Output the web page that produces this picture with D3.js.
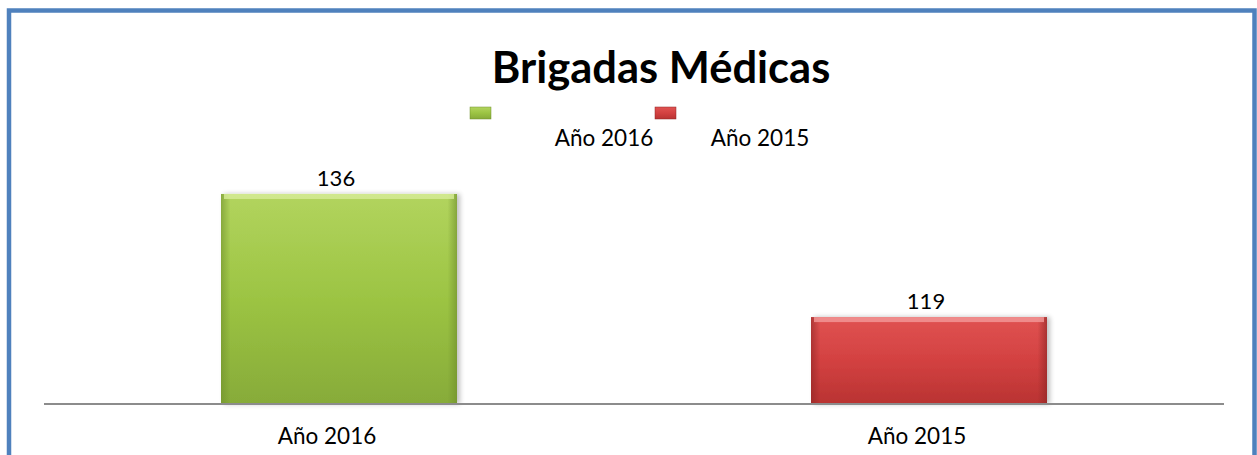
<!DOCTYPE html>
<html>
<head>
<meta charset="utf-8">
<script src="https://cdn.jsdelivr.net/npm/d3@7"></script>
<style>
  body { margin: 0; background: #fff; }
  text { font-family: Lato, "Open Sans", sans-serif; fill: #000; }
</style>
</head>
<body>
<svg class="chart" width="1257" height="455"></svg>
<script>
// data
var categories = ["Año 2016", "Año 2015"];
var values = [136, 119];
var seriesNames = ["Año 2016", "Año 2015"];
var title = "Brigadas Médicas";

var colors = [
  {top: "#b2d45e", mid: "#9cc443", bot: "#87ab39", edge: "#6f8f2c", light: "#d7ec98"},
  {top: "#e05352", mid: "#d34141", bot: "#b93332", edge: "#8e2524", light: "#f29a9a"}
];

var svg = d3.select("svg.chart");
var defs = svg.append("defs");

// gradients for the bars
colors.forEach(function(c, i) {
  var g = defs.append("linearGradient")
    .attr("id", "grad" + i)
    .attr("x1", 0).attr("y1", 0).attr("x2", 0).attr("y2", 1);
  g.append("stop").attr("offset", "0%").attr("stop-color", c.top);
  g.append("stop").attr("offset", "50%").attr("stop-color", c.mid);
  g.append("stop").attr("offset", "100%").attr("stop-color", c.bot);

  var s = defs.append("linearGradient")
    .attr("id", "side" + i)
    .attr("x1", 0).attr("y1", 0).attr("x2", 1).attr("y2", 0);
  s.append("stop").attr("offset", "0%").attr("stop-color", c.edge).attr("stop-opacity", 0.6);
  s.append("stop").attr("offset", "4%").attr("stop-color", c.edge).attr("stop-opacity", 0);
  s.append("stop").attr("offset", "96%").attr("stop-color", c.edge).attr("stop-opacity", 0);
  s.append("stop").attr("offset", "100%").attr("stop-color", c.edge).attr("stop-opacity", 0.65);
});

var shadow = defs.append("filter").attr("id", "shadow")
  .attr("x", "-10%").attr("y", "-10%").attr("width", "130%").attr("height", "130%");
shadow.append("feGaussianBlur").attr("in", "SourceAlpha").attr("stdDeviation", 2.5);
shadow.append("feOffset").attr("dx", 3).attr("dy", 0).attr("result", "b");
shadow.append("feComponentTransfer").append("feFuncA").attr("type", "linear").attr("slope", 0.25);
var mg = shadow.append("feMerge");
mg.append("feMergeNode");
mg.append("feMergeNode").attr("in", "SourceGraphic");

// outer blue frame
svg.append("rect")
  .attr("x", 9).attr("y", 10.5)
  .attr("width", 1245.5).attr("height", 470)
  .attr("fill", "none")
  .attr("stroke", "#4f81bd")
  .attr("stroke-width", 4.5);

// scales
var x = d3.scaleBand()
  .domain(categories)
  .range([44, 1224])
  .paddingInner(0.6)
  .paddingOuter(0.3);

var y = d3.scaleLinear()
  .domain([107, 140])
  .range([404, 165]);

// bars
var bars = svg.append("g").selectAll("g.bar")
  .data(values)
  .enter().append("g")
  .attr("class", "bar");

bars.append("rect")
  .attr("x", function(d, i) { return x(categories[i]); })
  .attr("y", function(d) { return y(d); })
  .attr("width", x.bandwidth())
  .attr("height", function(d) { return y(107) - y(d); })
  .attr("fill", function(d, i) { return "url(#grad" + i + ")"; })
  .attr("filter", "url(#shadow)");

bars.append("rect")
  .attr("x", function(d, i) { return x(categories[i]); })
  .attr("y", function(d) { return y(d); })
  .attr("width", x.bandwidth())
  .attr("height", function(d) { return y(107) - y(d); })
  .attr("fill", function(d, i) { return "url(#side" + i + ")"; });

// light bevel on top
bars.append("rect")
  .attr("x", function(d, i) { return x(categories[i]) + 3; })
  .attr("y", function(d) { return y(d); })
  .attr("width", x.bandwidth() - 6)
  .attr("height", 5)
  .attr("fill", function(d, i) { return colors[i].light; })
  .attr("opacity", 0.8);

// value labels
svg.append("g").selectAll("text")
  .data(values)
  .enter().append("text")
  .attr("x", function(d, i) { return x(categories[i]) + x.bandwidth() / 2 - 3; })
  .attr("y", function(d) { return y(d) - 8; })
  .attr("text-anchor", "middle")
  .style("font-size", "22px")
  .text(function(d) { return d; });

// baseline axis
svg.append("line")
  .attr("x1", 44).attr("x2", 1224)
  .attr("y1", y(107)).attr("y2", y(107))
  .attr("stroke", "#8c8c8c")
  .attr("stroke-width", 2);

// category labels
svg.append("g").selectAll("text")
  .data(categories)
  .enter().append("text")
  .attr("x", function(d) { return x(d) + x.bandwidth() / 2 - 12; })
  .attr("y", 444)
  .attr("text-anchor", "middle")
  .style("font-size", "22.5px")
  .text(function(d) { return d; });

// title
svg.append("text")
  .attr("x", 661)
  .attr("y", 83)
  .attr("text-anchor", "middle")
  .style("font-size", "43.5px")
  .style("font-weight", "bold")
  .text(title);

// legend
var legendSwatchX = [470, 655];
var legendTextX = [604, 760];
var legend = svg.append("g").selectAll("g")
  .data(seriesNames)
  .enter().append("g");

legend.append("rect")
  .attr("x", function(d, i) { return legendSwatchX[i]; })
  .attr("y", 107)
  .attr("width", 21)
  .attr("height", 12)
  .attr("fill", function(d, i) { return "url(#grad" + i + ")"; })
  .attr("stroke", function(d, i) { return colors[i].edge; })
  .attr("stroke-width", 0.5);

legend.append("text")
  .attr("x", function(d, i) { return legendTextX[i]; })
  .attr("y", 146)
  .attr("text-anchor", "middle")
  .style("font-size", "22.5px")
  .text(function(d) { return d; });
</script>
</body>
</html>
